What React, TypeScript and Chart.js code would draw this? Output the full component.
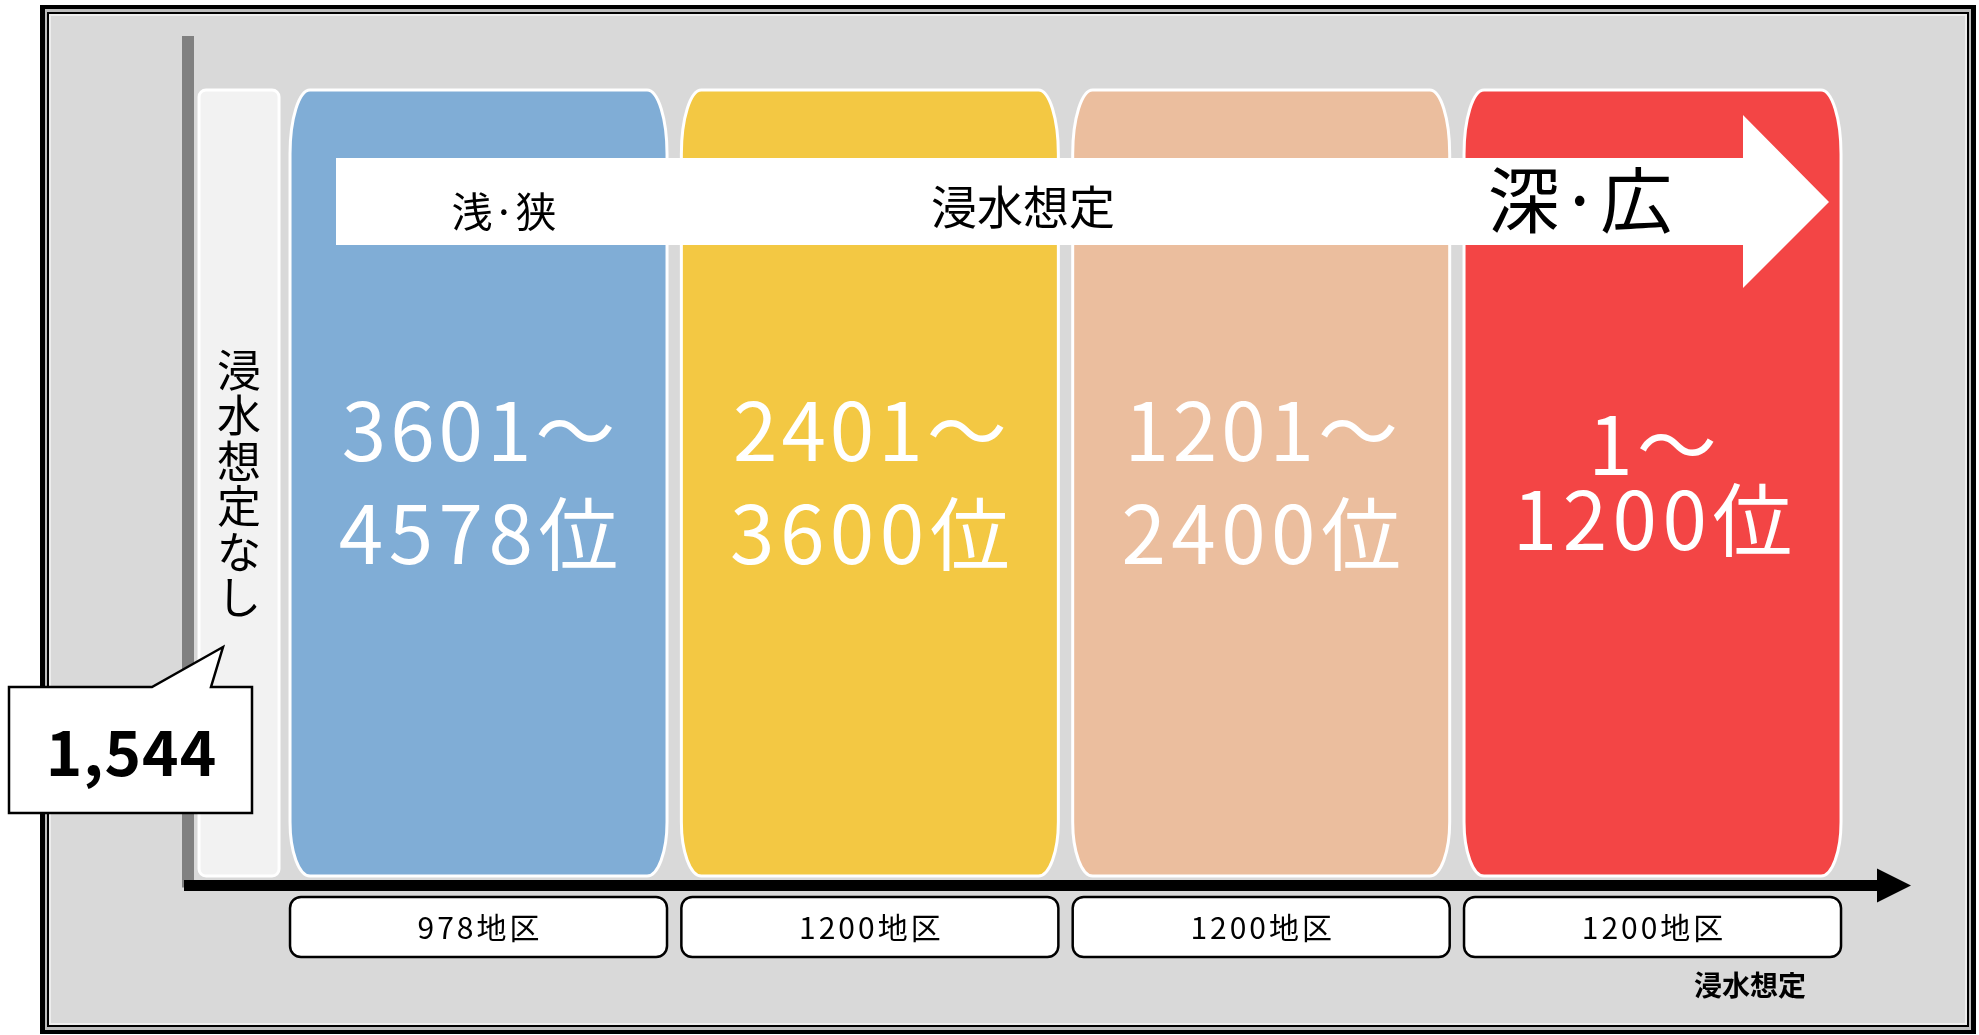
import { useEffect, useRef } from 'react';
import { Chart, registerables } from 'chart.js';

Chart.register(...registerables);

// ---- data ----
const noneLabel = '浸水想定なし';
const noneCount = 1544;
const noneLevel = 1;
const stageLabels = ['3601～4578位', '2401～3600位', '1201～2400位', '1～1200位'];
const rankFrom = ['3601', '2401', '1201', '1'];
const rankTo = ['4578', '3600', '2400', '1200'];
const districtCounts = [978, 1200, 1200, 1200];
const stageLevels = [1, 1, 1, 1];
const tickLabels = districtCounts.map((n) => `${n}地区`);
const arrowLabels = ['浅·狭', '浸水想定', '深·広'];
const axisTitle = '浸水想定';

// ---- style ----
const stageColors = ['#80ADD6', '#F3C843', '#EBBE9E', '#F34545'];
const noneColor = '#F2F2F2';
const FONT = '"Noto Sans CJK JP", "Noto Sans CJK SC", "Noto Sans", sans-serif';
const NONE_GAP = 0.612; // offset (in stage units) of the "none" column before the first stage

function barPath(ctx: CanvasRenderingContext2D, l: number, t: number, r: number, b: number, rx: number, ryT: number, ryB: number) {
  ctx.beginPath();
  ctx.moveTo(l + rx, t);
  ctx.lineTo(r - rx, t);
  ctx.ellipse(r - rx, t + ryT, rx, ryT, 0, -Math.PI / 2, 0);
  ctx.lineTo(r, b - ryB);
  ctx.ellipse(r - rx, b - ryB, rx, ryB, 0, 0, Math.PI / 2);
  ctx.lineTo(l + rx, b);
  ctx.ellipse(l + rx, b - ryB, rx, ryB, 0, Math.PI / 2, Math.PI);
  ctx.lineTo(l, t + ryT);
  ctx.ellipse(l + rx, t + ryT, rx, ryT, 0, Math.PI, Math.PI * 1.5);
  ctx.closePath();
}

function spacedText(ctx: CanvasRenderingContext2D, text: string, x: number, y: number, spacing: number) {
  (ctx as any).letterSpacing = `${spacing}px`;
  ctx.fillText(text, x + spacing / 2, y);
  (ctx as any).letterSpacing = '0px';
}

function roundRect(ctx: CanvasRenderingContext2D, x: number, y: number, w: number, h: number, r: number) {
  ctx.beginPath();
  ctx.moveTo(x + r, y);
  ctx.lineTo(x + w - r, y);
  ctx.arcTo(x + w, y, x + w, y + r, r);
  ctx.lineTo(x + w, y + h - r);
  ctx.arcTo(x + w, y + h, x + w - r, y + h, r);
  ctx.lineTo(x + r, y + h);
  ctx.arcTo(x, y + h, x, y + h - r, r);
  ctx.lineTo(x, y + r);
  ctx.arcTo(x, y, x + r, y, r);
  ctx.closePath();
}

const framePlugin = {
  id: 'frame',
  beforeDraw(chart: any) {
    const ctx = chart.ctx as CanvasRenderingContext2D;
    ctx.save();
    ctx.fillStyle = '#ffffff';
    ctx.fillRect(0, 0, chart.width, chart.height);
    const L = 40, T = 5, R = 1976, B = 1034;
    const layers: [number, number, string][] = [
      [0, 0, '#000000'],
      [5, 4, '#BDBDBD'],
      [7, 7, '#000000'],
      [9, 9, '#EDEDED'],
      [11, 11, '#D9D9D9'],
    ];
    for (const [ix, iy, c] of layers) {
      ctx.fillStyle = c;
      ctx.fillRect(L + ix, T + iy, R - L - 2 * ix, B - T - 2 * iy);
    }
    ctx.restore();
  },
};

const barsPlugin = {
  id: 'stageBars',
  beforeDatasetDraw(chart: any, args: any) {
    const ctx = chart.ctx as CanvasRenderingContext2D;
    const meta = args.meta;
    const isNone = args.index === 0;
    ctx.save();
    meta.data.forEach((el: any) => {
      const { x, y, base, width } = el.getProps(['x', 'y', 'base', 'width'], true);
      const l = x - width / 2, r = x + width / 2;
      if (isNone) barPath(ctx, l, y, r, base, 7, 7, 7);
      else barPath(ctx, l, y, r, base, 20, 64, 54);
      ctx.fillStyle = el.options.backgroundColor;
      ctx.fill();
      ctx.lineWidth = 3;
      ctx.strokeStyle = '#ffffff';
      ctx.stroke();
    });
    ctx.restore();
    return false;
  },
  afterDatasetsDraw(chart: any) {
    const ctx = chart.ctx as CanvasRenderingContext2D;
    const area = chart.chartArea;
    const noneEl = chart.getDatasetMeta(0).data[0];
    const stageEls = chart.getDatasetMeta(1).data;
    ctx.save();

    // axes
    ctx.fillStyle = '#808080';
    ctx.fillRect(area.left - 6, area.top, 12, area.bottom - area.top + 2);
    ctx.fillStyle = '#000000';
    ctx.fillRect(area.left - 4, area.bottom - 5.5, area.right - area.left + 4, 11);
    ctx.beginPath();
    ctx.moveTo(area.right, area.bottom - 17);
    ctx.lineTo(area.right + 34, area.bottom);
    ctx.lineTo(area.right, area.bottom + 17);
    ctx.closePath();
    ctx.fill();

    // vertical text in none column
    ctx.fillStyle = '#000000';
    ctx.font = `400 44px ${FONT}`;
    ctx.textAlign = 'center';
    ctx.textBaseline = 'middle';
    Array.from(noneLabel).forEach((ch, i) => {
      ctx.fillText(ch, noneEl.x, 370 + i * 45.5);
    });

    // big rank text
    ctx.fillStyle = '#ffffff';
    ctx.font = `400 80px ${FONT}`;
    stageEls.forEach((el: any, i: number) => {
      const last = i === stageEls.length - 1;
      const y1 = last ? 445 : 431;
      const y2 = last ? 520 : 534;
      spacedText(ctx, `${rankFrom[i]}～`, el.x, y1, 4);
      spacedText(ctx, `${rankTo[i]}位`, el.x, y2, 5.5);
    });

    // white arrow band
    ctx.fillStyle = '#ffffff';
    ctx.beginPath();
    ctx.moveTo(336, 158);
    ctx.lineTo(1743, 158);
    ctx.lineTo(1743, 115);
    ctx.lineTo(1829, 202);
    ctx.lineTo(1743, 288);
    ctx.lineTo(1743, 245);
    ctx.lineTo(336, 245);
    ctx.closePath();
    ctx.fill();
    ctx.fillStyle = '#000000';
    ctx.font = `400 41px ${FONT}`;
    ctx.fillText(arrowLabels[0], 504, 211);
    ctx.font = `400 46px ${FONT}`;
    ctx.fillText(arrowLabels[1], 1023, 207);
    ctx.font = `400 72px ${FONT}`;
    ctx.fillText(arrowLabels[2], 1580, 200);

    // tick boxes
    stageEls.forEach((el: any, i: number) => {
      const w = el.width;
      roundRect(ctx, el.x - w / 2, 897, w, 60, 11);
      ctx.fillStyle = '#ffffff';
      ctx.fill();
      ctx.lineWidth = 2.5;
      ctx.strokeStyle = '#000000';
      ctx.stroke();
      ctx.fillStyle = '#000000';
      ctx.font = `400 30px ${FONT}`;
      spacedText(ctx, tickLabels[i], el.x, 928, 3);
    });

    // axis title
    ctx.font = `700 28px ${FONT}`;
    ctx.fillText(axisTitle, 1750, 985);

    // callout
    ctx.beginPath();
    ctx.moveTo(9, 687);
    ctx.lineTo(152, 687);
    ctx.lineTo(223, 647);
    ctx.lineTo(211, 687);
    ctx.lineTo(252, 687);
    ctx.lineTo(252, 813);
    ctx.lineTo(9, 813);
    ctx.closePath();
    ctx.fillStyle = '#ffffff';
    ctx.fill();
    ctx.lineWidth = 2.5;
    ctx.strokeStyle = '#000000';
    ctx.stroke();
    ctx.fillStyle = '#000000';
    ctx.font = `700 62px ${FONT}`;
    spacedText(ctx, noneCount.toLocaleString('en-US'), 131, 752, 1);

    ctx.restore();
  },
};

export default function App() {
  const ref = useRef<HTMLCanvasElement>(null);
  useEffect(() => {
    const canvas = ref.current;
    if (!canvas) return;
    const chart = new Chart(canvas, {
      type: 'bar',
      data: {
        datasets: [
          {
            label: noneLabel,
            data: [{ x: 1 - NONE_GAP, y: noneLevel }],
            backgroundColor: noneColor,
            barThickness: 80,
            grouped: false,
          } as any,
          {
            label: stageLabels.join(' / '),
            data: stageLevels.map((v, i) => ({ x: i + 1, y: v })),
            backgroundColor: stageColors,
            barThickness: 377,
            grouped: false,
          } as any,
        ],
      },
      options: {
        animation: false,
        responsive: false,
        devicePixelRatio: 1,
        layout: { padding: { left: 188, right: 102, top: 36, bottom: 149.5 } },
        plugins: { legend: { display: false }, tooltip: { enabled: false } },
        scales: {
          x: { type: 'linear', min: 0.2576, max: 4.5736, offset: false, display: false },
          y: { type: 'linear', min: -0.0121, max: 1.0687, offset: false, display: false },
        },
      },
      plugins: [framePlugin, barsPlugin],
    });
    return () => chart.destroy();
  }, []);
  return (
    <div style={{ position: 'fixed', left: 0, top: 0, width: 1979, height: 1035, background: '#fff' }}>
      <canvas ref={ref} width={1979} height={1035} style={{ display: 'block', width: 1979, height: 1035 }} />
    </div>
  );
}
